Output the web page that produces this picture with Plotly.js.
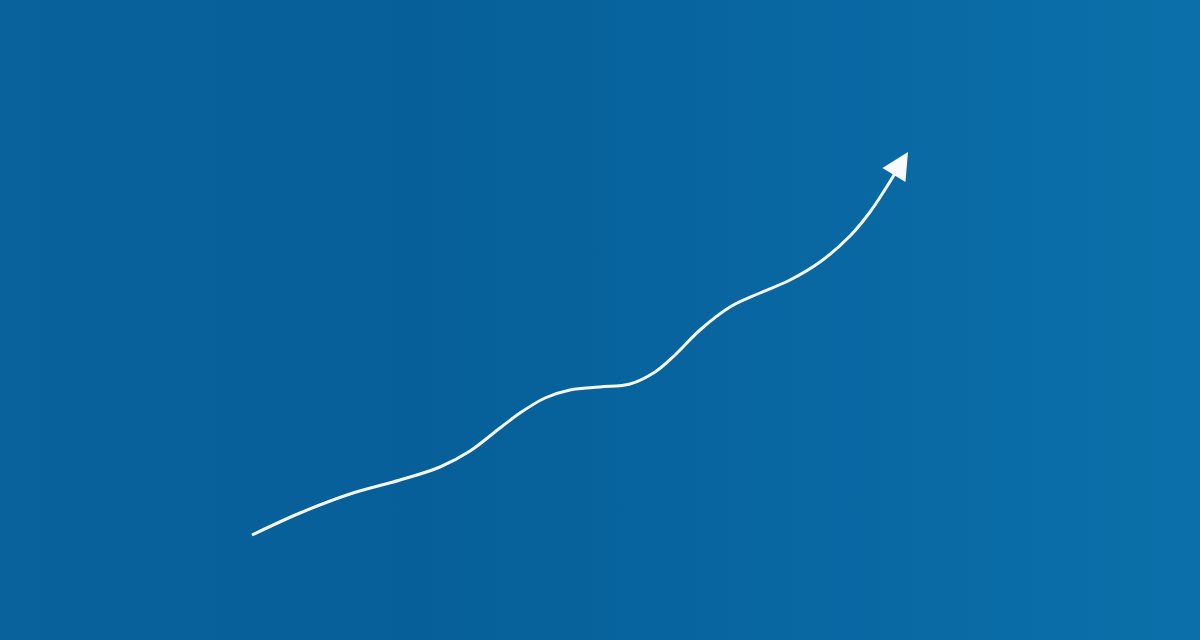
<!DOCTYPE html>
<html>
<head>
<meta charset="utf-8">
<script src="https://cdn.plot.ly/plotly-3.0.1.min.js"></script>
<style>
  html, body { margin: 0; padding: 0; }
  #chart {
    width: 1200px; height: 640px;
    background: linear-gradient(90deg, #0a629c 0%, #065f98 35%, #0865a0 60%, #0b70a9 100%);
  }
</style>
</head>
<body>
<div id="chart"></div>
<script>
// curve (pixel-like units, y grows downward)
const pathX = [252, 300, 350, 400, 440, 470, 500, 520, 545, 570, 600, 630, 655, 675, 700, 730, 760, 790, 820, 850, 870, 886, 897];
const pathY = [535, 513, 494, 480, 467, 451, 428, 413, 398, 390, 387, 384, 372, 355, 330, 307, 293, 280, 262, 236, 212, 188, 170];
// arrow from the end of the curve to its tip
const tipFrom = [897, 170];
const tipTo = [908, 152];

const curve = {
  x: pathX, y: pathY,
  type: 'scatter', mode: 'lines',
  line: { color: '#f4f8fb', width: 3, shape: 'spline', smoothing: 1 },
  hoverinfo: 'skip'
};

const layout = {
  width: 1200, height: 640,
  margin: { l: 0, r: 0, t: 0, b: 0 },
  paper_bgcolor: 'rgba(0,0,0,0)', plot_bgcolor: 'rgba(0,0,0,0)',
  showlegend: false,
  xaxis: { range: [0, 1200], visible: false, fixedrange: true },
  yaxis: { range: [640, 0], visible: false, fixedrange: true },
  annotations: [{
    x: tipTo[0], y: tipTo[1], ax: tipFrom[0], ay: tipFrom[1],
    xref: 'x', yref: 'y', axref: 'x', ayref: 'y',
    text: '', showarrow: true,
    arrowhead: 2, arrowsize: 1.8, arrowwidth: 3, arrowcolor: '#f8fbfd'
  }]
};

Plotly.newPlot('chart', [curve], layout, { staticPlot: true });
</script>
</body>
</html>
